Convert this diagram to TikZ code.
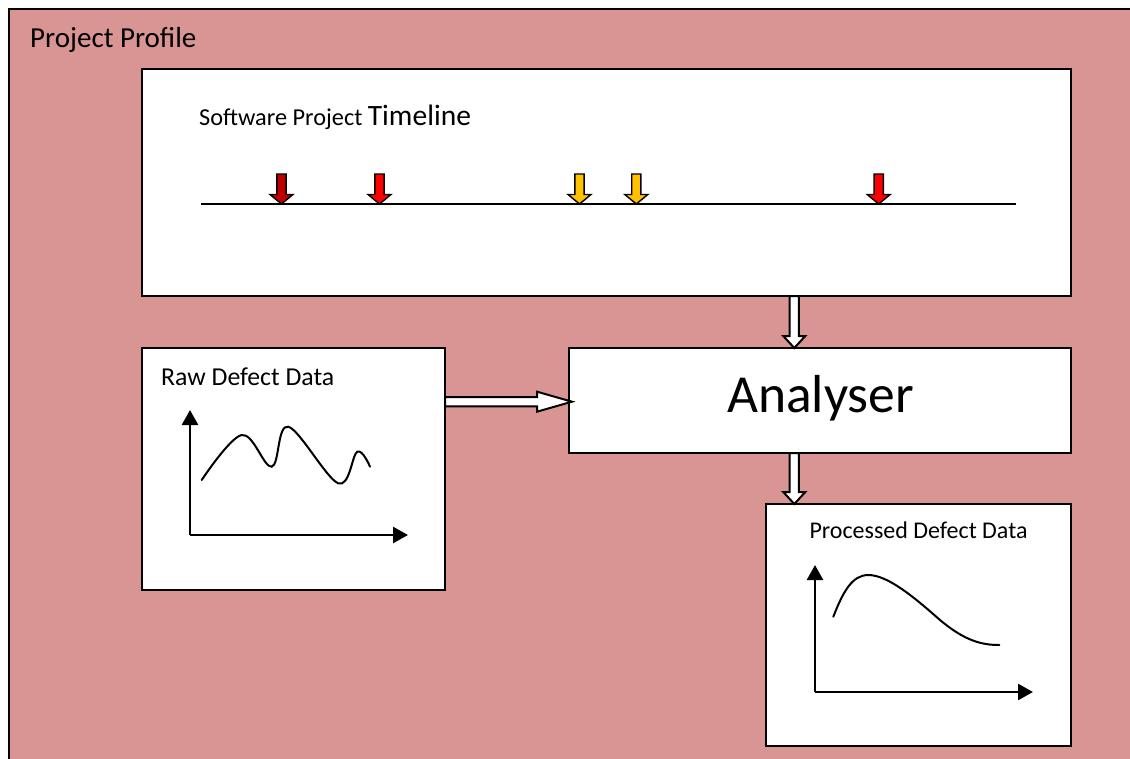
\documentclass[tikz,border=0pt]{standalone}
\usepackage{fontspec}
\setmainfont{Carlito}
\usetikzlibrary{arrows.meta,calc}
\definecolor{profilefill}{HTML}{D99594}
\definecolor{darkred}{HTML}{C00000}
\definecolor{brightred}{HTML}{FF0000}
\definecolor{gold}{HTML}{FFC000}
\tikzset{
  panel/.style={draw, line width=2, fill=white, anchor=north west, inner sep=0, outer sep=0},
  label/.style={anchor=base west, inner sep=0},
  blockarrow/.style={draw, line width=2, fill=white, line join=miter},
  axis/.style={line width=2.6, -{Triangle[length=15pt, width=16pt]}},
  curve/.style={line width=2, line cap=round},
  pics/tlflag/.style={code={
    \draw[line width=1.4, line join=miter, pic actions]
      (-4.6,-30) -- (-4.6,-9.5) -- (-11.5,-9.5) -- (0,0) -- (11.5,-9.5) -- (4.6,-9.5) -- (4.6,-30) -- cycle;}}
}
\begin{document}
\begin{tikzpicture}[x=1pt, y=-1pt]
\useasboundingbox (0,0) rectangle (1130,758);
\clip (0,0) rectangle (1130,758);

% outer project profile frame
\node[draw, line width=2.6, fill=profilefill, anchor=north west, inner sep=0, outer sep=0,
      minimum width=1140, minimum height=770] (profile) at (9,9) {};
\node[label, font=\fontsize{29}{31}\selectfont] (ptitle) at (30,47) {Project Profile};

% timeline panel
\node[panel, minimum width=929, minimum height=227] (tl) at (142,69) {};
\node[label] (tltitle) at (199,125)
  {\fontsize{24.3}{26}\selectfont Software Project \fontsize{29.5}{31}\selectfont Timeline};
\coordinate (tlstart) at (201,204);
\coordinate (tlend) at (1016,204);
\draw[line width=2] (tlstart) -- (tlend);
\pic[fill=darkred]    at (281.5,204) {tlflag};
\pic[fill=brightred]  at (379.5,204) {tlflag};
\pic[fill=gold]       at (579.5,204) {tlflag};
\pic[fill=gold]       at (636.3,204) {tlflag};
\pic[fill=brightred]  at (878.7,204) {tlflag};

% raw data panel
\node[panel, minimum width=303, minimum height=242] (raw) at (142,348) {};
\node[label, font=\fontsize{25.8}{27}\selectfont] (rawtitle) at (161,385) {Raw Defect Data};
\coordinate (rawo) at (190,535);
\draw[axis] (rawo) -- (190,410);
\draw[axis] (rawo) -- (408,535);
\draw[curve] plot[smooth, tension=0.6] coordinates
  {(201.7,480) (241.7,435) (271.7,466.7) (288.3,426.7) (338.3,483.3) (357.3,451.7) (370,466.7)};

% analyser panel
\node[panel, minimum width=502, minimum height=105] (an) at (569,348) {};
\node[font=\fontsize{53.5}{55}\selectfont, inner sep=0, anchor=base] (antitle) at (820.5,412) {Analyser};

% processed data panel
\node[panel, minimum width=305, minimum height=242] (pr) at (766,504) {};
\node[font=\fontsize{24}{26}\selectfont, inner sep=0, anchor=base] (prtitle) at (918.5,538) {Processed Defect Data};
\coordinate (pro) at (815,692);
\draw[axis] (pro) -- (815,565);
\draw[axis] (pro) -- (1033,692);
\draw[curve] (833.3,616.7) .. controls (843,592) and (852,575) .. (868.3,575)
  .. controls (888,575) and (915,598) .. (940,620)
  .. controls (965,641) and (982,645) .. (999.3,645);

% block connectors
\coordinate (vx) at (794.3,0);
\coordinate (hy) at (0,401.7);
\coordinate (d1s) at (tl.south -| vx);
\coordinate (d1e) at (an.north -| vx);
\coordinate (d2s) at (an.south -| vx);
\coordinate (d2e) at (pr.north -| vx);
\coordinate (h1s) at (raw.east |- hy);
\coordinate (h1e) at ($(an.west |- hy)+(3,0)$);

\path[blockarrow] ($(d1s)+(-4.6,0)$) -- ($(d1e)+(-4.6,-12)$) -- ($(d1e)+(-11,-12)$) -- (d1e)
  -- ($(d1e)+(11,-12)$) -- ($(d1e)+(4.6,-12)$) -- ($(d1s)+(4.6,0)$) -- cycle;
\path[blockarrow] ($(d2s)+(-4.6,0)$) -- ($(d2e)+(-4.6,-12)$) -- ($(d2e)+(-11,-12)$) -- (d2e)
  -- ($(d2e)+(11,-12)$) -- ($(d2e)+(4.6,-12)$) -- ($(d2s)+(4.6,0)$) -- cycle;
\path[blockarrow] ($(h1s)+(0,-4.7)$) -- ($(h1e)+(-35,-4.7)$) -- ($(h1e)+(-35,-10)$) -- (h1e)
  -- ($(h1e)+(-35,10)$) -- ($(h1e)+(-35,4.7)$) -- ($(h1s)+(0,4.7)$) -- cycle;
\end{tikzpicture}
\end{document}
